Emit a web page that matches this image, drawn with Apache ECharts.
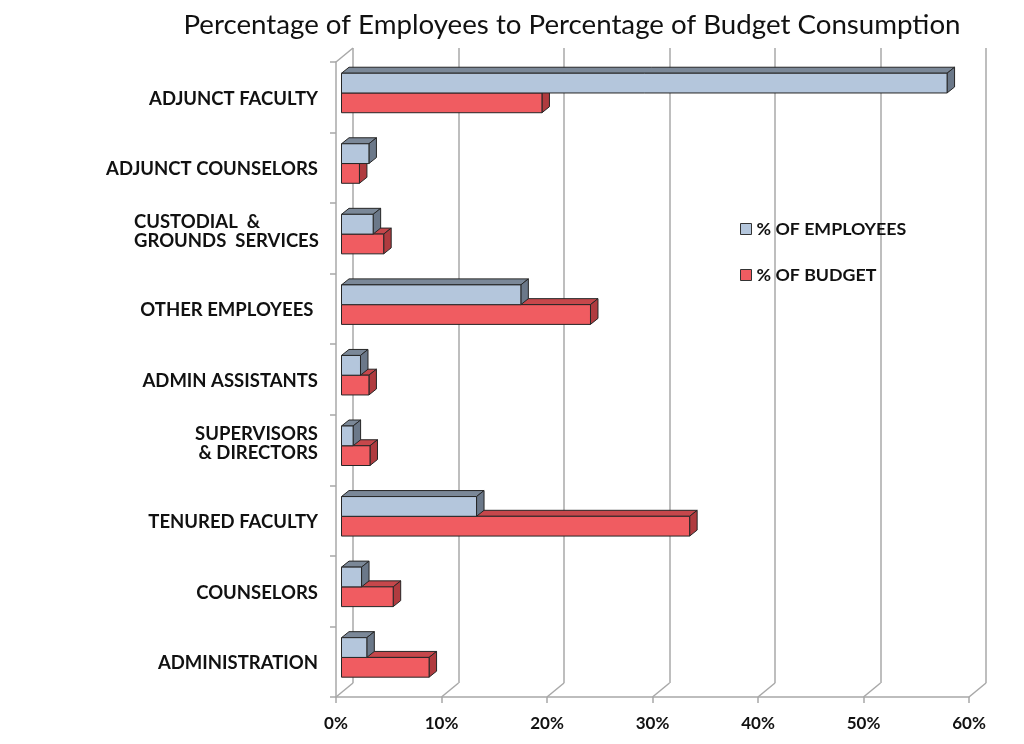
<!DOCTYPE html>
<html>
<head>
<meta charset="utf-8">
<script src="https://cdn.jsdelivr.net/npm/echarts@6/dist/echarts.min.js"></script>
<style>html,body{margin:0;padding:0;background:#fff}#c{width:1024px;height:744px}</style>
</head>
<body>
<div id="c"></div>
<script>
// ---- data ----
const categories = [
  'ADJUNCT FACULTY',
  'ADJUNCT COUNSELORS',
  'CUSTODIAL  &\nGROUNDS  SERVICES',
  'OTHER EMPLOYEES ',
  'ADMIN ASSISTANTS',
  'SUPERVISORS\n& DIRECTORS',
  'TENURED FACULTY',
  'COUNSELORS',
  'ADMINISTRATION'
];
const pctEmployees = [57.4, 2.6, 3.0, 17.0, 1.8, 1.1, 12.8, 1.9, 2.4];
const pctBudget    = [19.0, 1.7, 4.0, 23.6, 2.6, 2.7, 33.0, 4.9, 8.3];
const xTicks = [0, 10, 20, 30, 40, 50, 60];
const titleText = 'Percentage of Employees to Percentage of Budget Consumption';
const seriesNames = ['% OF EMPLOYEES', '% OF BUDGET'];

// ---- style ----
const FONT = 'Lato';
const GRID_COLOR = '#a8a8a8';
const DEPTH_X = 17, DEPTH_Y = 14;
const LABEL_SIZE = 18.5;

function bar3d(front, top, side, isEmp) {
  return function (params, api) {
    const v = api.value(0), c = api.value(1);
    const p0 = api.coord([0, c]);
    const p1 = api.coord([v, c]);
    const band = api.size([0, 1])[1];
    const h = band * 0.28;
    const ox = 5.5, oy = -4.3, dx = 7.5, dy = 6;
    const cy = p0[1] + oy;
    const y0 = isEmp ? cy - h : cy;
    const y1 = y0 + h;
    const x0 = p0[0] + ox, x1 = p1[0] + ox;
    const st = { stroke: '#262626', lineWidth: 1 };
    return {
      type: 'group',
      children: [
        { type: 'polygon', shape: { points: [[x0, y0], [x0 + dx, y0 - dy], [x1 + dx, y0 - dy], [x1, y0]] },
          style: Object.assign({ fill: top }, st) },
        { type: 'polygon', shape: { points: [[x1, y0], [x1 + dx, y0 - dy], [x1 + dx, y1 - dy], [x1, y1]] },
          style: Object.assign({ fill: side }, st) },
        { type: 'rect', shape: { x: x0, y: y0, width: x1 - x0, height: h },
          style: Object.assign({ fill: front }, st) }
      ]
    };
  };
}

const chart = echarts.init(document.getElementById('c'), null, { renderer: 'canvas' });

const frameData = xTicks.map(t => [t, 0]).concat([[-1, 0]]);

const labelBase = { fontFamily: FONT, fontWeight: 'bold', fontSize: LABEL_SIZE, color: '#111', lineHeight: 19 };

chart.setOption({
  backgroundColor: '#ffffff',
  animation: false,
  title: {
    text: titleText,
    left: 567, top: 6, textAlign: 'center',
    textStyle: { fontFamily: FONT, fontWeight: 'normal', fontSize: 27.7, color: '#111' }
  },
  legend: {
    data: seriesNames,
    orient: 'vertical',
    left: 735, top: 214,
    itemWidth: 11, itemHeight: 11, itemGap: 26,
    icon: 'rect',
    itemStyle: { borderColor: '#333', borderWidth: 1 },
    textStyle: { fontFamily: FONT, fontWeight: 700, fontSize: 17.8, color: '#111', lineHeight: 20 }
  },
  grid: [
    { left: 336, right: 55, top: 62, bottom: 47 },
    { left: 336 + DEPTH_X, right: 55 - DEPTH_X, top: 62 - DEPTH_Y, bottom: 47 + DEPTH_Y }
  ],
  xAxis: [
    {
      gridIndex: 0, type: 'value', min: 0, max: 60, interval: 10,
      axisLine: { show: true, lineStyle: { color: GRID_COLOR, width: 1.5 } },
      axisTick: { show: true, length: 6, lineStyle: { color: GRID_COLOR, width: 1.5 } },
      splitLine: { show: false },
      axisLabel: { formatter: '{value}%', fontFamily: FONT, fontWeight: 'bold', fontSize: 17, color: '#111', margin: 18 }
    },
    {
      gridIndex: 1, type: 'value', min: 0, max: 60, interval: 10,
      axisLine: { show: false }, axisTick: { show: false }, axisLabel: { show: false },
      splitLine: { show: true, lineStyle: { color: GRID_COLOR, width: 1.5 } }
    }
  ],
  yAxis: [
    {
      gridIndex: 0, type: 'category', data: categories, inverse: true,
      axisLine: { show: true, lineStyle: { color: GRID_COLOR, width: 1.5 } },
      axisTick: { show: true, length: 6, alignWithLabel: false, lineStyle: { color: GRID_COLOR, width: 1.5 } },
      splitLine: { show: false },
      axisLabel: Object.assign({}, labelBase, {
        margin: 18,
        formatter: function (val) {
          const lines = val.split('\n');
          if (lines.length === 1) return '{s|' + val + '}';
          const key = val.indexOf('CUSTODIAL') === 0 ? 'l' : 'r';
          return lines.map(s => '{' + key + '|' + s + '}').join('\n') + '\n{gap|\u200b}';
        },
        rich: {
          s: Object.assign({}, labelBase, { padding: [3, 0, 0, 0] }),
          l: Object.assign({}, labelBase, { width: 184, align: 'left' }),
          r: Object.assign({}, labelBase),
          gap: { fontSize: 1, lineHeight: 13 }
        }
      })
    },
    {
      gridIndex: 1, type: 'category', data: categories, inverse: true, show: false
    }
  ],
  series: [
    {
      name: 'frame', type: 'custom', xAxisIndex: 0, yAxisIndex: 0, silent: true, z: 1,
      data: frameData,
      renderItem: function (params, api) {
        const cs = params.coordSys;
        const v = api.value(0);
        let x, y;
        if (v < 0) { x = cs.x; y = cs.y; }
        else { x = api.coord([v, 0])[0]; y = cs.y + cs.height; }
        return { type: 'line', shape: { x1: x, y1: y, x2: x + DEPTH_X, y2: y - DEPTH_Y },
          style: { stroke: GRID_COLOR, lineWidth: 1.5 } };
      }
    },
    {
      name: seriesNames[1], type: 'custom', xAxisIndex: 0, yAxisIndex: 0, z: 3,
      itemStyle: { color: '#f05c61' },
      data: pctBudget.map((v, i) => [v, i]),
      renderItem: bar3d('#f05c61', '#c6474b', '#b03b3f', false)
    },
    {
      name: seriesNames[0], type: 'custom', xAxisIndex: 0, yAxisIndex: 0, z: 4,
      itemStyle: { color: '#b4c6dc' },
      data: pctEmployees.map((v, i) => [v, i]),
      renderItem: bar3d('#b4c6dc', '#7b8898', '#6b7889', true)
    }
  ]
});
</script>
</body>
</html>
